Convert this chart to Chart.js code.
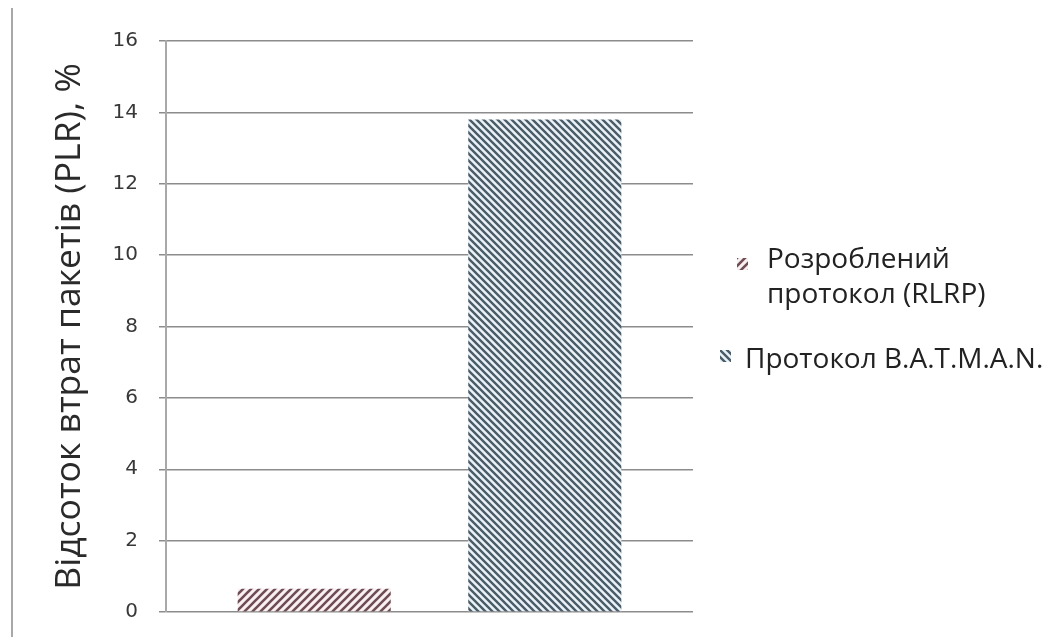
<!DOCTYPE html>
<html lang="uk">
<head>
    <meta charset="UTF-8">
    <title>Відсоток втрат пакетів (PLR)</title>
    <script src="https://cdn.jsdelivr.net/npm/chart.js"></script>
    <style>
        body {
            margin: 0;
            background: #fff;
            font-family: "Open Sans", sans-serif;
        }
        .wrap {
            position: relative;
            width: 1057px;
            height: 637px;
            overflow: hidden;
        }
        .frame {
            position: absolute;
            left: 11px;
            top: 8px;
            bottom: 0;
            border-left: 2px solid #a8a8a8;
        }
        .legend-item {
            position: absolute;
            color: #222;
            font-size: 28px;
            line-height: 35px;
            white-space: nowrap;
        }
    </style>
</head>
<body>
    <div class="wrap">
        <div class="frame"></div>
        <canvas id="chart" width="1057" height="637"></canvas>
        <div id="legend"></div>
    </div>
    <script>
        // дані з графіка
        const categories = [''];
        const seriesNames = [['Розроблений', 'протокол (RLRP)'], ['Протокол B.A.T.M.A.N.']];
        const rlrpValues = [0.65];
        const batmanValues = [13.8];
        const yTicks = [0, 2, 4, 6, 8, 10, 12, 14, 16];

        // штрихування для стовпців
        function makeHatch(bg, fg, dir, size, lw) {
            const c = document.createElement('canvas');
            c.width = size;
            c.height = size;
            const ctx = c.getContext('2d');
            ctx.fillStyle = bg;
            ctx.fillRect(0, 0, size, size);
            ctx.strokeStyle = fg;
            ctx.lineWidth = lw;
            ctx.beginPath();
            if (dir === '/') {
                ctx.moveTo(-1, 1); ctx.lineTo(1, -1);
                ctx.moveTo(0, size); ctx.lineTo(size, 0);
                ctx.moveTo(size - 1, size + 1); ctx.lineTo(size + 1, size - 1);
            } else {
                ctx.moveTo(-1, size - 1); ctx.lineTo(1, size + 1);
                ctx.moveTo(0, 0); ctx.lineTo(size, size);
                ctx.moveTo(size - 1, -1); ctx.lineTo(size + 1, 1);
            }
            ctx.stroke();
            return c;
        }

        const hatchRed = makeHatch('#fbf0f1', '#6f4d56', '/', 8, 2.6);
        const hatchBlue = makeHatch('#eaf2f7', '#4b5c69', '\\', 7, 2.4);
        const mainCtx = document.getElementById('chart').getContext('2d');

        const chart = new Chart(mainCtx, {
            type: 'bar',
            data: {
                labels: categories,
                datasets: [{
                    label: seriesNames[0].join(' '),
                    data: rlrpValues,
                    backgroundColor: mainCtx.createPattern(hatchRed, 'repeat'),
                    borderWidth: 0
                }, {
                    label: seriesNames[1].join(' '),
                    data: batmanValues,
                    backgroundColor: mainCtx.createPattern(hatchBlue, 'repeat'),
                    borderWidth: 0
                }]
            },
            options: {
                responsive: false,
                animation: false,
                datasets: {
                    bar: {
                        categoryPercentage: 0.875,
                        barPercentage: 0.664
                    }
                },
                layout: {
                    padding: { left: 45, right: 364, top: 41, bottom: 25 }
                },
                plugins: {
                    legend: { display: false },
                    tooltip: { enabled: false }
                },
                scales: {
                    x: {
                        ticks: { display: false },
                        grid: { display: false },
                        border: { display: false },
                        afterFit: (scale) => {
                            scale.height = 0;
                        }
                    },
                    y: {
                        min: 0,
                        max: 16,
                        afterBuildTicks: (scale) => {
                            scale.ticks = yTicks.map(v => ({ value: v }));
                        },
                        afterFit: (scale) => {
                            scale.width = 121;
                            // підписи не мають відсувати область графіка
                            scale.paddingTop = 0;
                            scale.paddingBottom = 0;
                        },
                        ticks: {
                            color: '#383838',
                            padding: 21,
                            font: { family: 'DejaVu Sans', size: 20 }
                        },
                        grid: {
                            color: '#8c8c8c',
                            lineWidth: 1.5,
                            tickLength: 7,
                            tickColor: '#8c8c8c'
                        },
                        border: {
                            display: true,
                            color: '#a8a8a8',
                            width: 2
                        },
                        title: {
                            display: true,
                            text: 'Відсоток втрат пакетів (PLR), %',
                            color: '#2a2a2a',
                            padding: { top: 4, bottom: 4 },
                            font: { family: 'Open Sans', size: 35.5 }
                        }
                    }
                }
            }
        });

        // легенда праворуч
        const legend = document.getElementById('legend');
        const swatches = [hatchRed, hatchBlue];
        const itemPos = [
            { textLeft: 767, textTop: 240, swLeft: 737, swTop: 258 },
            { textLeft: 745, textTop: 340, swLeft: 720, swTop: 350 }
        ];
        seriesNames.forEach((lines, i) => {
            const p = itemPos[i];
            const sw = document.createElement('canvas');
            sw.width = 11;
            sw.height = 12;
            sw.style.position = 'absolute';
            sw.style.left = p.swLeft + 'px';
            sw.style.top = p.swTop + 'px';
            const sctx = sw.getContext('2d');
            sctx.fillStyle = sctx.createPattern(swatches[i], 'repeat');
            sctx.fillRect(0, 0, 11, 12);
            legend.appendChild(sw);

            const text = document.createElement('div');
            text.className = 'legend-item';
            text.style.left = p.textLeft + 'px';
            text.style.top = p.textTop + 'px';
            text.innerHTML = lines.join('<br>');
            legend.appendChild(text);
        });
    </script>
</body>
</html>
